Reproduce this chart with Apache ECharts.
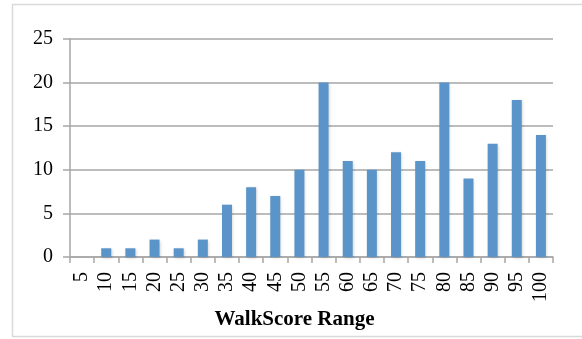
<!DOCTYPE html>
<html>
<head>
<meta charset="utf-8">
<script src="https://cdn.jsdelivr.net/npm/echarts@6/dist/echarts.min.js"></script>
<style>
  html, body { margin: 0; padding: 0; background: #fff; }
  #chart { width: 582px; height: 339px; }
</style>
</head>
<body>
<div id="chart"></div>
<script>
// WalkScore ranges (bucket upper bounds) and number of locations in each
const categories = ['5', '10', '15', '20', '25', '30', '35', '40', '45', '50',
                    '55', '60', '65', '70', '75', '80', '85', '90', '95', '100'];
const counts = [0, 1, 1, 2, 1, 2, 6, 8, 7, 10, 20, 11, 10, 12, 11, 20, 9, 13, 18, 14];
const yTicks = { min: 0, max: 25, interval: 5 };
const axisTitle = 'WalkScore Range';

const serif = '"Times New Roman", "Liberation Serif", serif';
const gridGrey = '#a6a6a6';

const chart = echarts.init(document.getElementById('chart'), null, { renderer: 'canvas' });
chart.setOption({
  animation: false,
  backgroundColor: '#ffffff',
  grid: { left: 70, right: 29, top: 39, bottom: 82, containLabel: false },
  xAxis: {
    type: 'category',
    data: categories,
    boundaryGap: true,
    axisLine: { show: true, lineStyle: { color: gridGrey, width: 1.5 } },
    axisTick: { show: true, alignWithLabel: false, length: 6, lineStyle: { color: gridGrey, width: 1.5 } },
    axisLabel: {
      rotate: 90,
      margin: 15,
      interval: 0,
      color: '#000',
      fontFamily: serif,
      fontSize: 20
    }
  },
  yAxis: {
    type: 'value',
    min: yTicks.min,
    max: yTicks.max,
    interval: yTicks.interval,
    axisLine: { show: true, lineStyle: { color: gridGrey, width: 1.5 } },
    axisTick: { show: true, length: 7, lineStyle: { color: gridGrey, width: 1.5 } },
    splitLine: { show: true, lineStyle: { color: gridGrey, width: 1.5 } },
    axisLabel: {
      margin: 17,
      color: '#000',
      fontFamily: serif,
      fontSize: 20
    }
  },
  series: [{
    type: 'bar',
    data: counts,
    barWidth: 10,
    itemStyle: {
      color: '#5b94c9',
      shadowColor: 'rgba(0,0,0,0.18)',
      shadowBlur: 3,
      shadowOffsetX: 1,
      shadowOffsetY: 1
    }
  }],
  graphic: [
    {
      type: 'rect',
      silent: true,
      shape: { x: 12.5, y: 4.5, width: 600, height: 332 },
      style: { fill: 'none', stroke: '#d9d9d9', lineWidth: 1.5 },
      z: -1
    },
    {
      type: 'text',
      silent: true,
      x: 294.5,
      y: 320,
      style: {
        text: axisTitle,
        fill: '#000',
        font: 'bold 21px ' + serif,
        textAlign: 'center',
        textVerticalAlign: 'middle'
      }
    }
  ]
});
</script>
</body>
</html>
